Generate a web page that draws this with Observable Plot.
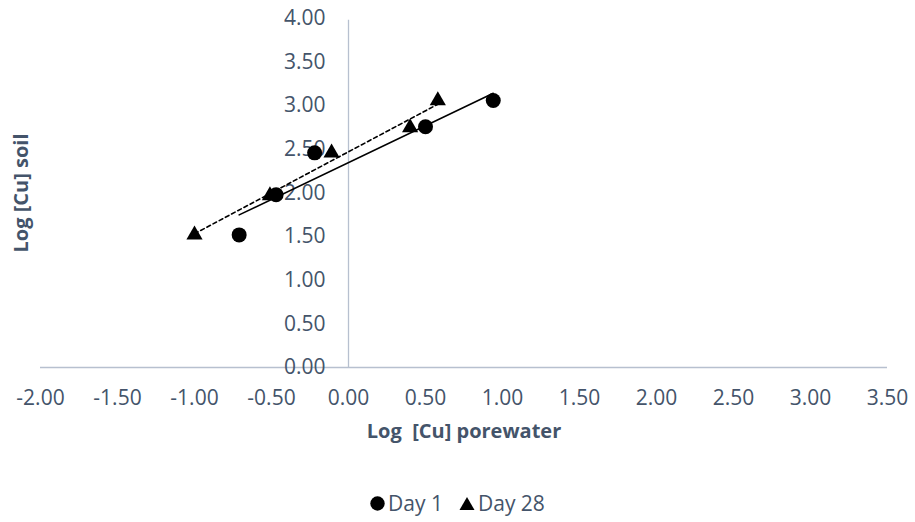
<!DOCTYPE html>
<html><head><meta charset="utf-8">
<script src="https://cdn.jsdelivr.net/npm/d3@7"></script>
<script src="https://cdn.jsdelivr.net/npm/@observablehq/plot@0.6"></script>
<style>
body{margin:0;background:#fff;font-family:"Open Sans",sans-serif;}
#wrap{position:relative;width:915px;height:522px;overflow:hidden;}
#legend{position:absolute;left:0;top:489px;width:915px;height:28px;display:flex;justify-content:center;align-items:center;color:#44546a;font-size:21px;}
#legend .item{display:flex;align-items:center;margin:0 8px;}
#legend svg{margin-right:3px;}
</style></head><body><div id="wrap"><div id="chart"></div><div id="legend"></div></div>
<script>
const seriesNames = ["Day 1", "Day 28"];
const day1X = [-0.71, -0.47, -0.22, 0.50, 0.94];
const day1Y = [1.52, 1.98, 2.46, 2.76, 3.06];
const day28X = [-1.00, -0.51, -0.11, 0.40, 0.58];
const day28Y = [1.52, 1.97, 2.46, 2.75, 3.06];
const xTicks = [-2, -1.5, -1, -0.5, 0, 0.5, 1, 1.5, 2, 2.5, 3, 3.5];
const yTicks = [0, 0.5, 1, 1.5, 2, 2.5, 3, 3.5, 4];
const xTitle = "Log  [Cu] porewater";
const yTitle = "Log [Cu] soil";

const day1 = day1X.map((x, i) => ({x, y: day1Y[i], s: seriesNames[0]}));
const day28 = day28X.map((x, i) => ({x, y: day28Y[i], s: seriesNames[1]}));

const textColor = "#44546a";
const axisColor = "#b7c0cf";
const fs = 21;

const chart = Plot.plot({
  width: 915,
  height: 475,
  marginLeft: 40,
  marginRight: 28,
  marginTop: 18,
  marginBottom: 108,
  style: {fontFamily: "'Open Sans', sans-serif", background: "#fff"},
  x: {domain: [-2, 3.5], axis: null},
  y: {domain: [0, 4], axis: null},
  marks: [
    Plot.ruleY([0], {stroke: axisColor, strokeWidth: 1.3}),
    Plot.ruleX([0], {stroke: axisColor, strokeWidth: 1.3, y1: 0, y2: 3.98}),
    Plot.text(yTicks, {x: 0, y: d => d, text: d => d.toFixed(2), textAnchor: "end", dx: -23, fill: textColor, fontSize: fs}),
    Plot.text(xTicks, {x: d => d, y: 0, text: d => d.toFixed(2), dy: 31, fill: textColor, fontSize: fs}),
    Plot.text([xTitle], {frameAnchor: "bottom", textAnchor: "middle", dy: 70, text: d => d, fill: textColor, fontSize: 20, fontWeight: "bold"}),
    Plot.text([yTitle], {frameAnchor: "left", textAnchor: "middle", dx: -19, rotate: -90, text: d => d, fill: textColor, fontSize: 20, fontWeight: "bold"}),
    Plot.linearRegressionY(day1, {x: "x", y: "y", ci: 0, stroke: "#000", strokeWidth: 1.6}),
    Plot.linearRegressionY(day28, {x: "x", y: "y", ci: 0, stroke: "#000", strokeWidth: 1.6, strokeDasharray: "4,3"}),
    Plot.dot(day1, {x: "x", y: "y", r: 7.5, fill: "#000", symbol: "circle"}),
    Plot.dot(day28, {x: "x", y: "y", r: 6, fill: "#000", symbol: "triangle"})
  ]
});
document.getElementById("chart").appendChild(chart);

const legend = document.getElementById("legend");
const shapes = [
  '<svg width="15" height="15" viewBox="0 0 15 15"><circle cx="7.5" cy="7.5" r="7.2" fill="#000"/></svg>',
  '<svg width="16" height="15" viewBox="0 0 16 15"><path d="M8,1 L15.5,14 L0.5,14 Z" fill="#000"/></svg>'
];
seriesNames.forEach((name, i) => {
  const item = document.createElement("div");
  item.className = "item";
  item.innerHTML = shapes[i] + "<span>" + name + "</span>";
  legend.appendChild(item);
});
</script>
</body></html>
